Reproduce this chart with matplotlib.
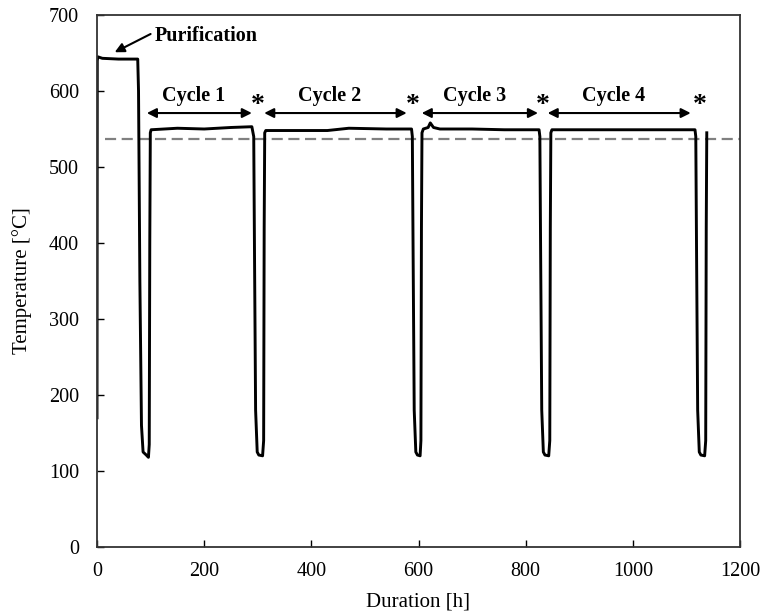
import matplotlib
matplotlib.use("Agg")
import matplotlib.pyplot as plt

# Temperature trace breakpoints (hours, °C)
time_h = [0, 0.5, 1.5, 10, 40, 76, 77.5, 80, 83, 86, 92, 96, 97.5, 98.5, 99.5, 101,
          150, 200, 250, 289, 292.5, 294, 296, 299, 302, 309, 311, 312, 313, 315,
          380, 430, 470, 540, 587, 588.5, 590, 592, 595, 598, 603, 604.5, 605.5, 606.5,
          609, 618, 622, 628, 640, 700, 760, 825, 826.5, 828, 830, 833, 836, 843, 845, 846, 847, 849,
          900, 1000, 1060, 1116, 1117.5, 1119, 1121, 1124, 1127, 1134, 1136, 1137, 1138]
temp_c = [170, 640, 645, 643, 642, 642, 600, 350, 160, 125, 121, 118, 135, 400, 545, 549,
          551, 550, 552, 553, 540, 380, 180, 125, 121, 120, 140, 420, 545, 548,
          548, 548, 551, 550, 550, 540, 380, 180, 125, 121, 120, 140, 420, 545,
          550, 552, 558, 552, 550, 550, 549, 549, 540, 380, 180, 125, 121, 120, 140, 420, 545, 549,
          549, 549, 549, 549, 540, 380, 180, 125, 121, 120, 140, 420, 545]

ref_level = 537
cycle_labels = ["Cycle 1", "Cycle 2", "Cycle 3", "Cycle 4"]
cycle_starts = [93, 312, 606, 841]
cycle_ends = [289, 578, 823, 1108]
star_x = [300, 590, 832, 1125]

plt.rcParams['font.family'] = ['Liberation Serif', 'DejaVu Serif']
fig = plt.figure(figsize=(7.62, 6.14), dpi=100)
ax = fig.add_axes([97/762, 67/614, 643/762, 532/614])

ax.axhline(ref_level, xmin=15/1200, xmax=1.0, color='#808080', linestyle=(0, (5, 2.5)), linewidth=1.6)
ax.plot(time_h, temp_c, color='black', linewidth=2.1, solid_joinstyle='round')

for lab, s, e in zip(cycle_labels, cycle_starts, cycle_ends):
    ax.annotate('', xy=(s, 571), xytext=(e, 571),
                arrowprops=dict(arrowstyle='<|-|>', color='black', lw=1.5,
                                mutation_scale=14, shrinkA=0, shrinkB=0))
    ax.text((s + e) / 2 - 10, 593, lab, ha='center', va='center', fontsize=14.5, fontweight='bold')
for sx in star_x:
    ax.text(sx, 581, '*', ha='center', va='center', fontsize=20, fontweight='bold')

ax.annotate('', xy=(33, 651), xytext=(100, 675),
            arrowprops=dict(arrowstyle='-|>', color='black', lw=1.5, mutation_scale=14,
                            shrinkA=0, shrinkB=0))
ax.text(107, 672, 'Purification', ha='left', va='center', fontsize=14.5, fontweight='bold')

ax.set_xlim(0, 1200)
ax.set_ylim(0, 700)
ax.set_xticks(range(0, 1201, 200))
ax.set_yticks(range(0, 701, 100))
ax.tick_params(direction='in', length=5, width=1, labelsize=14.5, colors='black')
ax.tick_params(axis='x', pad=11)
ax.tick_params(axis='y', pad=13)
for sp in ax.spines.values():
    sp.set_linewidth(1.3)
    sp.set_color('#333333')
ax.set_xlabel('Duration [h]', fontsize=15, labelpad=8)
ax.set_ylabel('Temperature [°C]', fontsize=15, labelpad=12)

fig.savefig('out.png', dpi=100)
